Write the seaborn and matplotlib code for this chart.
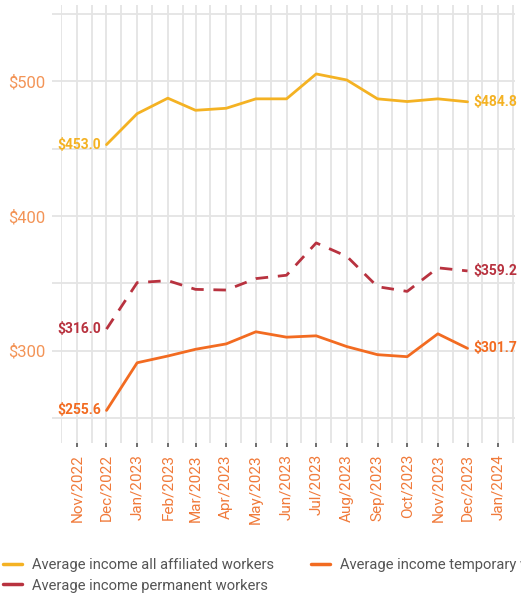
import matplotlib
matplotlib.use("Agg")
import matplotlib.pyplot as plt
import matplotlib.dates as mdates
import seaborn as sns
import pandas as pd
import numpy as np

months = ["2022-12-01", "2023-01-01", "2023-02-01", "2023-03-01", "2023-04-01", "2023-05-01",
          "2023-06-01", "2023-07-01", "2023-08-01", "2023-09-01", "2023-10-01", "2023-11-01",
          "2023-12-01"]
all_workers = [453.0, 476.0, 487.5, 478.5, 480.0, 487.0, 487.0, 505.5, 501.0, 487.0, 485.0, 487.0, 484.8]
permanent = [316.0, 350.5, 352.0, 345.5, 345.0, 353.5, 356.0, 380.0, 370.0, 347.5, 344.0, 361.5, 359.2]
temporary = [255.6, 291.0, 296.0, 301.0, 305.0, 314.0, 310.0, 311.0, 303.0, 297.0, 295.5, 312.5, 301.7]

names = ["Average income all affiliated workers", "Average income permanent workers",
         "Average income temporary workers"]
colors = ["#f4b223", "#b8323f", "#f26b21"]
yticks = [250, 300, 350, 400, 450, 500, 550]
ylabels = ["", "$300", "", "$400", "", "$500", ""]

sns.set_theme(style="white")
plt.rcParams["font.family"] = ["Roboto", "DejaVu Sans"]

fig = plt.figure(figsize=(5.21, 5.94), dpi=100)
ax = fig.add_axes([61 / 521, 1 - 443 / 594, (515 - 61) / 521, (443 - 5) / 594])

dates = pd.to_datetime(months)
series = [all_workers, permanent, temporary]
for name, vals, col in zip(names, series, colors):
    df = pd.DataFrame({"date": dates, "value": vals})
    sns.lineplot(data=df, x="date", y="value", ax=ax, color=col, lw=2.0, label=name)
lines = ax.get_lines()
lines[1].set_dashes([4.5, 3.5])

ax.set_xlim(pd.Timestamp("2022-10-16"), pd.Timestamp("2024-01-18"))
ax.set_ylim(231.4, 556.7)

# grid
ax.xaxis.set_major_locator(mdates.MonthLocator(bymonthday=1))
ax.xaxis.set_minor_locator(mdates.MonthLocator(bymonthday=16))
ax.xaxis.set_major_formatter(mdates.DateFormatter("%b/%Y"))
ax.set_yticks(yticks)
ax.set_yticklabels(ylabels)
ax.grid(True, which="both", axis="x", color="#e4e4e4", lw=1.3)
ax.grid(True, which="major", axis="y", color="#e4e4e4", lw=1.3)
ax.set_axisbelow(True)
for s in ax.spines.values():
    s.set_visible(False)
ax.set_xlabel("")
ax.set_ylabel("")

ax.tick_params(axis="y", which="major", length=6.5, width=1.3, color="#e4e4e4", pad=5,
               labelsize=12, labelcolor="#f39457", left=True)
ax.tick_params(axis="x", which="major", length=3, width=1.2, color="#555555", pad=5,
               labelsize=11, labelcolor="#f07a3a", bottom=True, rotation=90)
ax.tick_params(axis="x", which="minor", length=0)
for lab in ax.get_xticklabels():
    lab.set_verticalalignment("top")
    lab.set_horizontalalignment("center")

# end labels
for vals, col in zip(series, colors):
    ax.annotate(f"${vals[0]:.1f}", xy=(dates[0], vals[0]), xytext=(-4, 0),
                textcoords="offset points", ha="right", va="center", color=col,
                fontsize=10, fontweight="bold")
    ax.annotate(f"${vals[-1]:.1f}", xy=(dates[-1], vals[-1]), xytext=(4, 0),
                textcoords="offset points", ha="left", va="center", color=col,
                fontsize=10, fontweight="bold")

ax.get_legend().remove()
handles = ax.get_lines()[:3]
leg = fig.legend(handles, names, loc="upper left", bbox_to_anchor=(-0.005, 1 - 552 / 594), ncol=2,
                 frameon=False, fontsize=10.6, handlelength=1.3, handletextpad=0.65,
                 columnspacing=2.5, labelspacing=0.45, borderaxespad=0)
for t in leg.get_texts():
    t.set_color("#555555")
for h in leg.legend_handles:
    h.set_linestyle("-")
    h.set_linewidth(2.5)

fig.savefig("out.png", dpi=100)
